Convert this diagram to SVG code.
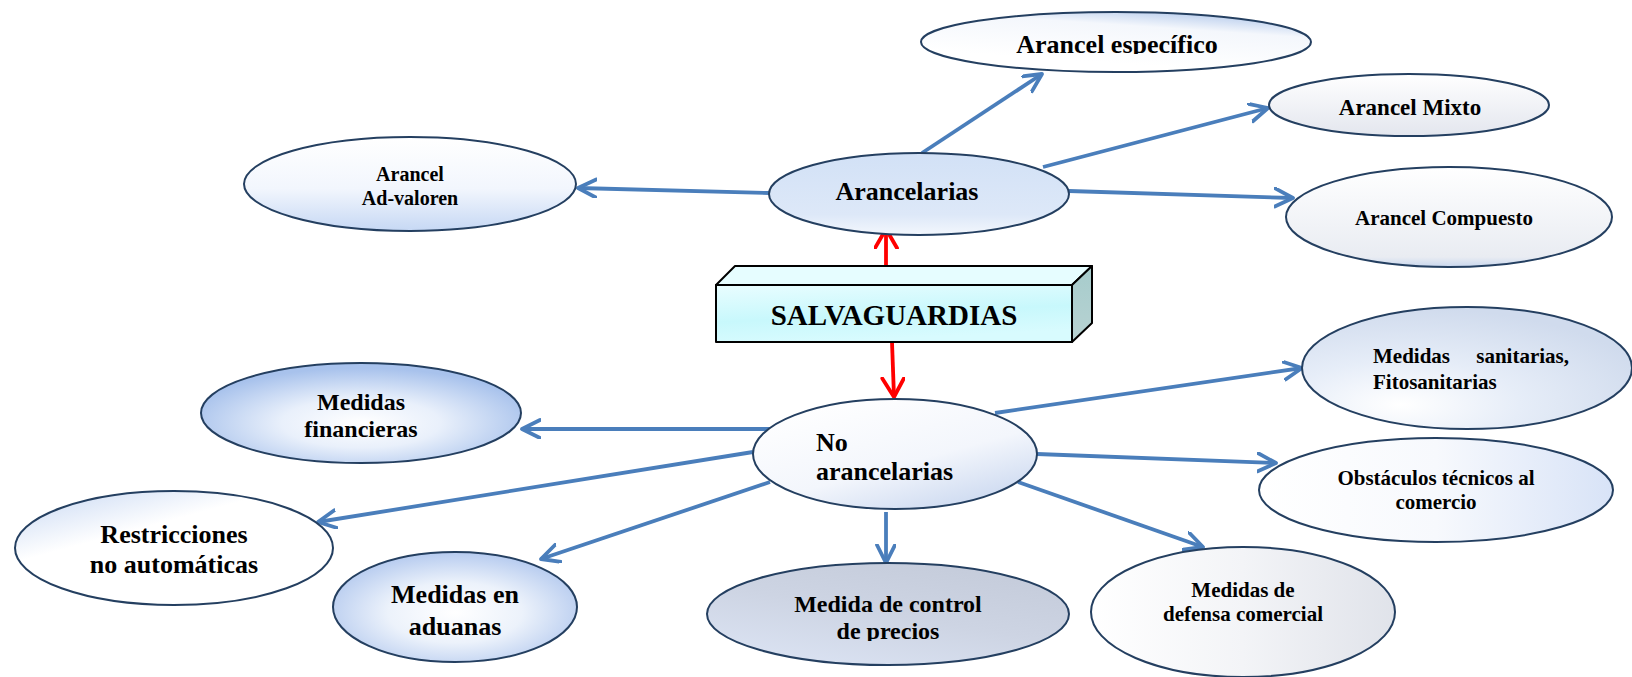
<svg xmlns="http://www.w3.org/2000/svg" width="1632" height="677" viewBox="0 0 1632 677">
<style>
.lbl{font-family:"Liberation Serif","Times New Roman",serif;font-weight:bold;fill:#000;text-anchor:middle}
.lft{text-anchor:start}
.end{text-anchor:end}
.node{stroke:#243f60;stroke-width:2}
.con{stroke:#4a7ebb;stroke-width:3.8;fill:none;marker-end:url(#ab)}
.red{stroke:#ff0000;stroke-width:3.8;fill:none;marker-end:url(#ar)}
.box{stroke:#000;stroke-width:2;stroke-linejoin:round}
</style>
<defs>
<marker id="ab" markerUnits="userSpaceOnUse" markerWidth="24" markerHeight="24" refX="19" refY="10" orient="auto">
<path d="M1,1 L19,10 L1,19" fill="none" stroke="#4a7ebb" stroke-width="3.8" stroke-linecap="round" stroke-linejoin="round"/>
</marker>
<marker id="ar" markerUnits="userSpaceOnUse" markerWidth="26" markerHeight="26" refX="20" refY="12" orient="auto">
<path d="M1,1 L20,12 L1,23" fill="none" stroke="#ff0000" stroke-width="3.8" stroke-linecap="round" stroke-linejoin="round"/>
</marker>
<linearGradient id="gAran" x1="0" y1="0" x2="0" y2="1"><stop offset="0" stop-color="#d2e1f6"/><stop offset="0.75" stop-color="#dde8f8"/><stop offset="1" stop-color="#f3f7fd"/></linearGradient>
<linearGradient id="gAdv" x1="0" y1="0" x2="0" y2="1"><stop offset="0" stop-color="#ffffff"/><stop offset="0.55" stop-color="#f2f6fd"/><stop offset="1" stop-color="#c6d8f4"/></linearGradient>
<linearGradient id="gEsp" x1="0.6" y1="0.9" x2="1" y2="0"><stop offset="0" stop-color="#ffffff"/><stop offset="0.6" stop-color="#f4f7fc"/><stop offset="1" stop-color="#9fbbe6"/></linearGradient>
<linearGradient id="gMix" x1="0" y1="0" x2="0" y2="1"><stop offset="0" stop-color="#ffffff"/><stop offset="1" stop-color="#e3e6ee"/></linearGradient>
<linearGradient id="gComp" x1="0" y1="0" x2="0" y2="1"><stop offset="0" stop-color="#ffffff"/><stop offset="0.9" stop-color="#e9ecf2"/><stop offset="1" stop-color="#c9d7ee"/></linearGradient>
<radialGradient id="gFin" cx="0.5" cy="0.6" r="0.55"><stop offset="0" stop-color="#ffffff"/><stop offset="0.45" stop-color="#e9f0fb"/><stop offset="1" stop-color="#a8c2ec"/></radialGradient>
<linearGradient id="gRes" x1="0" y1="0" x2="0.6" y2="0.8"><stop offset="0" stop-color="#c5d6f2"/><stop offset="0.5" stop-color="#ffffff"/><stop offset="1" stop-color="#ffffff"/></linearGradient>
<radialGradient id="gAdu" cx="0.5" cy="0.55" r="0.55"><stop offset="0" stop-color="#ffffff"/><stop offset="0.5" stop-color="#ecf2fb"/><stop offset="1" stop-color="#b6cbef"/></radialGradient>
<linearGradient id="gNo" x1="0.2" y1="0" x2="0.9" y2="1"><stop offset="0" stop-color="#ffffff"/><stop offset="0.55" stop-color="#f3f6fc"/><stop offset="1" stop-color="#c5d4ee"/></linearGradient>
<linearGradient id="gCtl" x1="0.2" y1="1" x2="0.8" y2="0"><stop offset="0" stop-color="#dbe3f3"/><stop offset="0.5" stop-color="#cdd4e3"/><stop offset="1" stop-color="#c4cbda"/></linearGradient>
<linearGradient id="gDef" x1="0" y1="0.5" x2="1" y2="0.5"><stop offset="0" stop-color="#ffffff"/><stop offset="0.5" stop-color="#f3f4f7"/><stop offset="1" stop-color="#e0e3ea"/></linearGradient>
<linearGradient id="gObs" x1="0" y1="0.5" x2="1" y2="0.5"><stop offset="0" stop-color="#ffffff"/><stop offset="0.5" stop-color="#f7f9fd"/><stop offset="1" stop-color="#d8e3f7"/></linearGradient>
<radialGradient id="gSan" cx="0.3" cy="0.8" r="0.8"><stop offset="0" stop-color="#ffffff"/><stop offset="0.45" stop-color="#e6edf8"/><stop offset="1" stop-color="#d0dbed"/></radialGradient>
<linearGradient id="gFront" x1="0" y1="0" x2="0.3" y2="1"><stop offset="0" stop-color="#e9fdff"/><stop offset="0.6" stop-color="#c8f8fc"/><stop offset="1" stop-color="#d8fbfe"/></linearGradient>
<linearGradient id="gSide" x1="0" y1="0" x2="0" y2="1"><stop offset="0" stop-color="#a6cccc"/><stop offset="1" stop-color="#b8d2d2"/></linearGradient>
<clipPath id="cEsp"><rect x="900" y="0" width="450" height="54"/></clipPath>
<clipPath id="cCtl"><rect x="700" y="540" width="400" height="101"/></clipPath>
</defs>

<g id="connectors">
<line class="red" x1="886" y1="266" x2="886" y2="229"/>
<line class="red" x1="892" y1="342" x2="894" y2="397"/>
<line class="con" x1="922" y1="153" x2="1042" y2="74"/>
<line class="con" x1="1043" y1="167" x2="1268" y2="108"/>
<line class="con" x1="1069" y1="191" x2="1293" y2="198"/>
<line class="con" x1="769" y1="193" x2="578" y2="188"/>
<line class="con" x1="770" y1="429" x2="522" y2="429"/>
<line class="con" x1="753" y1="452" x2="318" y2="522"/>
<line class="con" x1="770" y1="482" x2="541" y2="559"/>
<line class="con" x1="886" y1="512" x2="886" y2="563"/>
<line class="con" x1="1018" y1="482" x2="1203" y2="547"/>
<line class="con" x1="1037" y1="454" x2="1276" y2="463"/>
<line class="con" x1="995" y1="413" x2="1302" y2="368"/>
</g>

<g id="n-especifico">
<ellipse class="node" cx="1116" cy="42" rx="195" ry="30" fill="url(#gEsp)"/>
<text class="lbl" x="1117" y="53" font-size="26" clip-path="url(#cEsp)">Arancel específico</text>
</g>
<g id="n-mixto">
<ellipse class="node" cx="1409" cy="105" rx="140" ry="31" fill="url(#gMix)"/>
<text class="lbl" x="1410" y="115" font-size="23">Arancel Mixto</text>
</g>
<g id="n-compuesto">
<ellipse class="node" cx="1449" cy="217" rx="163" ry="50" fill="url(#gComp)"/>
<text class="lbl" x="1444" y="225" font-size="21">Arancel Compuesto</text>
</g>
<g id="n-advaloren">
<ellipse class="node" cx="410" cy="184" rx="166" ry="47" fill="url(#gAdv)"/>
<text class="lbl" x="410" y="181" font-size="20">Arancel</text>
<text class="lbl" x="410" y="205" font-size="20">Ad-valoren</text>
</g>
<g id="n-arancelarias">
<ellipse class="node" cx="919" cy="194" rx="150" ry="41" fill="url(#gAran)"/>
<text class="lbl" x="907" y="200" font-size="26">Arancelarias</text>
</g>
<g id="n-salvaguardias">
<polygon class="box" points="716,285 735,266 1092,266 1072,285" fill="#e6fdff"/>
<polygon class="box" points="1072,285 1092,266 1092,323 1072,342" fill="url(#gSide)"/>
<rect class="box" x="716" y="285" width="356" height="57" fill="url(#gFront)"/>
<text class="lbl" x="894" y="325" font-size="29">SALVAGUARDIAS</text>
</g>
<g id="n-noarancelarias">
<ellipse class="node" cx="895" cy="454" rx="142" ry="55" fill="url(#gNo)"/>
<text class="lbl lft" x="816" y="451" font-size="26">No</text>
<text class="lbl lft" x="816" y="480" font-size="26">arancelarias</text>
</g>
<g id="n-financieras">
<ellipse class="node" cx="361" cy="413" rx="160" ry="50" fill="url(#gFin)"/>
<text class="lbl" x="361" y="410" font-size="24">Medidas</text>
<text class="lbl" x="361" y="437" font-size="24">financieras</text>
</g>
<g id="n-restricciones">
<ellipse class="node" cx="174" cy="548" rx="159" ry="57" fill="url(#gRes)"/>
<text class="lbl" x="174" y="543" font-size="26">Restricciones</text>
<text class="lbl" x="174" y="573" font-size="26">no automáticas</text>
</g>
<g id="n-aduanas">
<ellipse class="node" cx="455" cy="607" rx="122" ry="55" fill="url(#gAdu)"/>
<text class="lbl" x="455" y="603" font-size="26">Medidas en</text>
<text class="lbl" x="455" y="635" font-size="26">aduanas</text>
</g>
<g id="n-control">
<ellipse class="node" cx="888" cy="614" rx="181" ry="51" fill="url(#gCtl)"/>
<text class="lbl" x="888" y="612" font-size="24">Medida de control</text>
<text class="lbl" x="888" y="639" font-size="24" clip-path="url(#cCtl)">de precios</text>
</g>
<g id="n-defensa">
<ellipse class="node" cx="1243" cy="612" rx="152" ry="65" fill="url(#gDef)"/>
<text class="lbl" x="1243" y="597" font-size="21">Medidas de</text>
<text class="lbl" x="1243" y="621" font-size="21">defensa comercial</text>
</g>
<g id="n-obstaculos">
<ellipse class="node" cx="1436" cy="490" rx="177" ry="52" fill="url(#gObs)"/>
<text class="lbl" x="1436" y="485" font-size="21">Obstáculos técnicos al</text>
<text class="lbl" x="1436" y="509" font-size="21">comercio</text>
</g>
<g id="n-sanitarias">
<ellipse class="node" cx="1467" cy="368" rx="165" ry="61" fill="url(#gSan)"/>
<text class="lbl lft" x="1373" y="363" font-size="21">Medidas</text>
<text class="lbl end" x="1569" y="363" font-size="21">sanitarias,</text>
<text class="lbl lft" x="1373" y="389" font-size="21">Fitosanitarias</text>
</g>
</svg>
